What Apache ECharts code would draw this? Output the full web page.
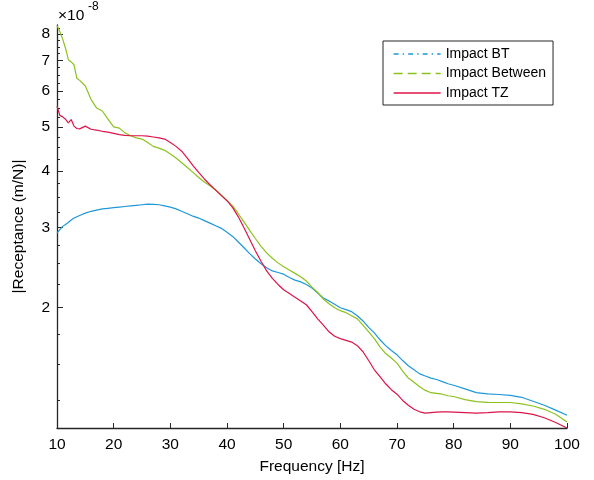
<!DOCTYPE html>
<html>
<head>
<meta charset="utf-8">
<script src="https://cdn.jsdelivr.net/npm/echarts@6/dist/echarts.min.js"></script>
<style>
html,body{margin:0;padding:0;background:#fff;}
#c{width:594px;height:480px;}
</style>
</head>
<body>
<div id="c"></div>
<script>
// Frequency grid [Hz]
var freq = [10,10.5,11,11.5,12,12.5,13,13.5,14,15,16,17,18,19,20,21,22,23,24,25,26,27,28,29,30,31,32,33,34,35,36,37,38,39,40,41,42,43,44,45,46,47,48,49,50,51,52,53,54,55,56,57,58,59,60,61,62,63,64,65,66,67,68,69,70,71,72,73,74,75,76,77,78,79,80,82,84,86,88,90,92,94,96,98,100];
// |Receptance| values in units of 1e-8 m/N
var impactBT = [2.92,2.97,3.02,3.05,3.08,3.12,3.15,3.17,3.19,3.23,3.26,3.28,3.30,3.31,3.32,3.33,3.34,3.35,3.36,3.37,3.38,3.375,3.37,3.35,3.33,3.30,3.26,3.22,3.18,3.15,3.11,3.07,3.03,2.99,2.93,2.87,2.79,2.71,2.63,2.56,2.50,2.45,2.41,2.39,2.37,2.33,2.30,2.28,2.25,2.21,2.155,2.10,2.07,2.035,2.0,1.98,1.96,1.92,1.87,1.81,1.76,1.70,1.65,1.61,1.575,1.53,1.49,1.46,1.43,1.415,1.40,1.39,1.375,1.36,1.35,1.325,1.30,1.292,1.288,1.283,1.27,1.245,1.22,1.19,1.16];
var impactBetween = [8.36,8.1,7.8,7.45,7.03,6.95,6.85,6.4,6.33,6.15,5.75,5.5,5.42,5.2,5.0,4.97,4.85,4.78,4.73,4.70,4.62,4.53,4.49,4.44,4.36,4.27,4.17,4.07,3.97,3.87,3.78,3.71,3.63,3.54,3.44,3.35,3.22,3.09,2.96,2.84,2.73,2.64,2.57,2.51,2.46,2.42,2.38,2.34,2.29,2.22,2.16,2.09,2.04,2.0,1.97,1.95,1.92,1.89,1.83,1.77,1.71,1.64,1.585,1.55,1.51,1.45,1.40,1.37,1.34,1.315,1.30,1.295,1.29,1.28,1.275,1.255,1.243,1.238,1.237,1.237,1.228,1.215,1.195,1.165,1.12];
var impactTZ = [5.55,5.3,5.26,5.2,5.1,5.19,5.02,4.96,4.95,5.02,4.94,4.92,4.89,4.87,4.84,4.81,4.79,4.78,4.78,4.78,4.77,4.75,4.73,4.7,4.62,4.53,4.42,4.27,4.11,3.97,3.84,3.73,3.63,3.53,3.44,3.32,3.17,3.0,2.83,2.67,2.53,2.41,2.32,2.25,2.19,2.15,2.11,2.07,2.03,1.96,1.89,1.83,1.77,1.73,1.71,1.695,1.68,1.65,1.6,1.53,1.46,1.41,1.36,1.32,1.29,1.25,1.22,1.195,1.18,1.172,1.175,1.178,1.18,1.179,1.178,1.175,1.172,1.175,1.18,1.179,1.175,1.165,1.145,1.118,1.087];
var seriesNames = ['Impact BT','Impact Between','Impact TZ'];
var xTicks = [10,20,30,40,50,60,70,80,90,100];
var yMajorTicks = [2,3,4,5,6,7,8];
var yMinorTicks = [1.25,1.5,1.75,2.25,2.5,2.75,3.25,3.5,3.75,4.25,4.5,4.75,5.25,5.5,5.75,6.25,6.5,6.75,7.25,7.5,7.75,8.25];

function pairs(ys){ return freq.map(function(f,i){ return [f, ys[i]]; }); }

var FONT = 'Liberation Sans, Arial, sans-serif';
var AX = '#262626';
var colors = ['#1f98d8','#8cc21e','#dc1449'];
var yMin = 1.087, yMax = 8.38;
var hidden = {color:'rgba(0,0,0,0)',borderColor:'rgba(0,0,0,0)',borderWidth:0};

var chart = echarts.init(document.getElementById('c'), null, {renderer:'canvas'});
chart.setOption({
  animation:false,
  color: colors,
  grid:{left:57,right:27,top:25,bottom:52,containLabel:false},
  legend:{
    orient:'vertical', left:383, top:41,
    padding:[6,7,5,10], itemGap:5.5, itemWidth:47, itemHeight:14,
    borderColor:'#262626', borderWidth:1, backgroundColor:'#fff',
    textStyle:{fontFamily:FONT,fontSize:14,color:'#000'},
    data:[
      {name:seriesNames[0], itemStyle:hidden, lineStyle:{color:colors[0],opacity:1,type:[5,4,1.5,4],width:1.3}},
      {name:seriesNames[1], itemStyle:hidden, lineStyle:{color:colors[1],opacity:1,type:[9,5],width:1.3}},
      {name:seriesNames[2], itemStyle:hidden, lineStyle:{color:colors[2],opacity:1,type:'solid',width:1.3}}
    ]
  },
  xAxis:{
    type:'value', min:10, max:100, interval:10,
    name:'Frequency [Hz]', nameLocation:'middle', nameGap:31,
    nameTextStyle:{fontFamily:FONT,fontSize:15.5,color:'#000'},
    axisLine:{lineStyle:{color:AX,width:1.3}},
    axisTick:{inside:true,length:5,lineStyle:{color:AX}},
    axisLabel:{fontFamily:FONT,fontSize:15.5,color:'#000',margin:9},
    splitLine:{show:false}
  },
  yAxis:[{
    type:'log', min:yMin, max:yMax,
    name:'|Receptance (m/N)|', nameLocation:'middle', nameGap:30,
    nameTextStyle:{fontFamily:FONT,fontSize:15.5,color:'#000'},
    axisLine:{lineStyle:{color:AX,width:1.3}},
    axisTick:{inside:true,length:6,customValues:yMajorTicks,lineStyle:{color:AX}},
    axisLabel:{fontFamily:FONT,fontSize:15.5,color:'#000',margin:7,customValues:yMajorTicks,
      formatter:function(v){return String(Math.round(v));}},
    splitLine:{show:false}
  },{
    type:'log', min:yMin, max:yMax, position:'left',
    axisLine:{show:false},
    axisTick:{inside:true,length:3,customValues:yMinorTicks,lineStyle:{color:AX}},
    axisLabel:{show:false},
    splitLine:{show:false}
  }],
  graphic:[
    {type:'text',left:58,top:8,style:{text:'\u00d710',fontFamily:FONT,fontSize:15.5,fill:'#000'}},
    {type:'text',left:88,top:1,style:{text:'-8',fontFamily:FONT,fontSize:12,fill:'#000'}}
  ],
  series:[
    {name:seriesNames[0],type:'line',data:pairs(impactBT),showSymbol:false,symbol:'none',lineStyle:{width:1.2,color:colors[0]}},
    {name:seriesNames[1],type:'line',data:pairs(impactBetween),showSymbol:false,symbol:'none',lineStyle:{width:1.2,color:colors[1]}},
    {name:seriesNames[2],type:'line',data:pairs(impactTZ),showSymbol:false,symbol:'none',lineStyle:{width:1.2,color:colors[2]}}
  ]
});
</script>
</body>
</html>
